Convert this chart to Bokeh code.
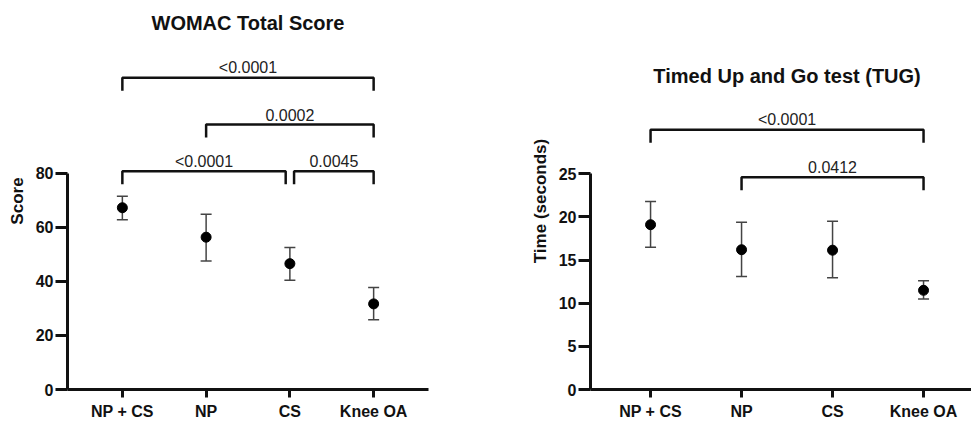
from bokeh.plotting import figure
from bokeh.models import (ColumnDataSource, Range1d, FixedTicker, Whisker, TeeHead)
from bokeh.core.properties import value
from bokeh.layouts import row
from bokeh.embed import file_html
from bokeh.resources import INLINE

# ---------------- data ----------------
categories = ["NP + CS", "NP", "CS", "Knee OA"]

womac_mean = [67.3, 56.4, 46.6, 31.7]
womac_upper = [71.6, 64.9, 52.6, 37.8]
womac_lower = [62.9, 47.6, 40.5, 25.8]
womac_ticks = [0, 20, 40, 60, 80]
womac_comparisons = [("NP + CS", "Knee OA"), ("NP", "Knee OA"), ("NP + CS", "CS"), ("CS", "Knee OA")]
womac_pvalues = ["<0.0001", "0.0002", "<0.0001", "0.0045"]

tug_mean = [19.1, 16.2, 16.15, 11.5]
tug_upper = [21.8, 19.4, 19.5, 12.6]
tug_lower = [16.5, 13.1, 12.95, 10.5]
tug_ticks = [0, 5, 10, 15, 20, 25]
tug_comparisons = [("NP + CS", "Knee OA"), ("NP", "Knee OA")]
tug_pvalues = ["<0.0001", "0.0412"]

FONT = "Liberation Sans"
TOP, BOTTOM, FRAME_H = 12, 34, 377


def make_panel(title, ylabel, means, uppers, lowers, ticks, comps, pvals,
               width, frame_w, left_border, x_lim, y_end, levels, leg_px,
               title_px):
    xs = list(range(len(categories)))
    p = figure(width=width, height=TOP + FRAME_H + BOTTOM,
               output_backend="svg", toolbar_location=None,
               min_border_left=left_border, min_border_right=width - left_border - frame_w,
               min_border_top=TOP, min_border_bottom=BOTTOM,
               x_range=Range1d(x_lim[0], x_lim[1]), y_range=Range1d(0, y_end))
    p.outline_line_color = None
    p.grid.visible = False
    p.background_fill_color = "white"

    # axes
    xa = p.xaxis[0]
    xa.ticker = FixedTicker(ticks=xs)
    xa.major_label_overrides = {i: c for i, c in enumerate(categories)}
    xa.axis_label = None
    ya = p.yaxis[0]
    ya.ticker = FixedTicker(ticks=ticks)
    ya.bounds = (ticks[0], ticks[-1])
    ya.axis_label = ylabel
    for ax in (xa, ya):
        ax.axis_line_width = 3
        ax.axis_line_color = "#111111"
        ax.major_tick_line_width = 3
        ax.major_tick_line_color = "#111111"
        ax.major_tick_in = 0
        ax.minor_tick_line_color = None
        ax.major_label_text_font = FONT
        ax.major_label_text_font_style = "bold"
        ax.major_label_text_font_size = "16px"
        ax.major_label_text_color = "#111111"
    xa.major_tick_out = 8
    xa.major_label_standoff = 5
    ya.major_tick_out = 12
    ya.major_label_standoff = 2
    ya.axis_label_text_font = FONT
    ya.axis_label_text_font_style = "bold"
    ya.axis_label_text_font_size = "17px"
    ya.axis_label_text_color = "#111111"
    ya.axis_label_standoff = 6

    # error bars
    src = ColumnDataSource(dict(x=xs, mean=means, upper=uppers, lower=lowers))
    w = Whisker(base="x", upper="upper", lower="lower", source=src,
                line_color="#444444", line_width=1.5,
                upper_head=TeeHead(size=11, line_color="#444444", line_width=1.5),
                lower_head=TeeHead(size=11, line_color="#444444", line_width=1.5))
    p.add_layout(w)
    p.scatter("x", "mean", source=src, size=10, color="black")

    # significance brackets
    px_per_unit = FRAME_H / y_end
    leg = leg_px / px_per_unit
    idx = {c: i for i, c in enumerate(categories)}
    bxs, bys, tx, ty, tt = [], [], [], [], []
    for k, ((a, b), pv) in enumerate(zip(comps, pvals)):
        lvl = levels[k]
        x1, x2 = float(idx[a]), float(idx[b])
        for j, (a2, b2) in enumerate(comps):
            if j != k and levels[j] == lvl:
                if b == a2:
                    x2 -= 0.05
                if a == b2:
                    x1 += 0.05
        bxs.append([x1, x1, x2, x2])
        bys.append([lvl - leg, lvl, lvl, lvl - leg])
        tx.append((x1 + x2) / 2)
        ty.append(lvl)
        tt.append(pv)
    p.multi_line(bxs, bys, line_color="#111111", line_width=2.5)
    p.text(tx, ty, text=tt, text_align="center", text_baseline="alphabetic",
           y_offset=-10, text_font_size="16px", text_color="#222222",
           text_font=value(FONT))

    # chart title, centred over the categories
    p.text([(xs[0] + xs[-1]) / 2], [y_end], text=[title], text_align="center",
           text_baseline="middle", y_offset=title_px, text_font_size="20px",
           text_font_style="bold", text_color="#111111", text_font=value(FONT))
    return p


left = make_panel("WOMAC Total Score", "Score", womac_mean, womac_upper, womac_lower,
                  womac_ticks, womac_comparisons, womac_pvalues,
                  width=480, frame_w=361, left_border=67,
                  x_lim=(-0.655, 3.655), y_end=139.6,
                  levels=[115.4, 98.1, 80.8, 80.8], leg_px=13, title_px=10)

right = make_panel("Timed Up and Go test (TUG)", "Time (seconds)", tug_mean, tug_upper, tug_lower,
                   tug_ticks, tug_comparisons, tug_pvalues,
                   width=491, frame_w=381, left_border=110,
                   x_lim=(-0.66, 3.527), y_end=43.7,
                   levels=[30.1, 24.6], leg_px=13, title_px=63)

layout = row(left, right)
open("out.html", "w").write(file_html(layout, INLINE))
